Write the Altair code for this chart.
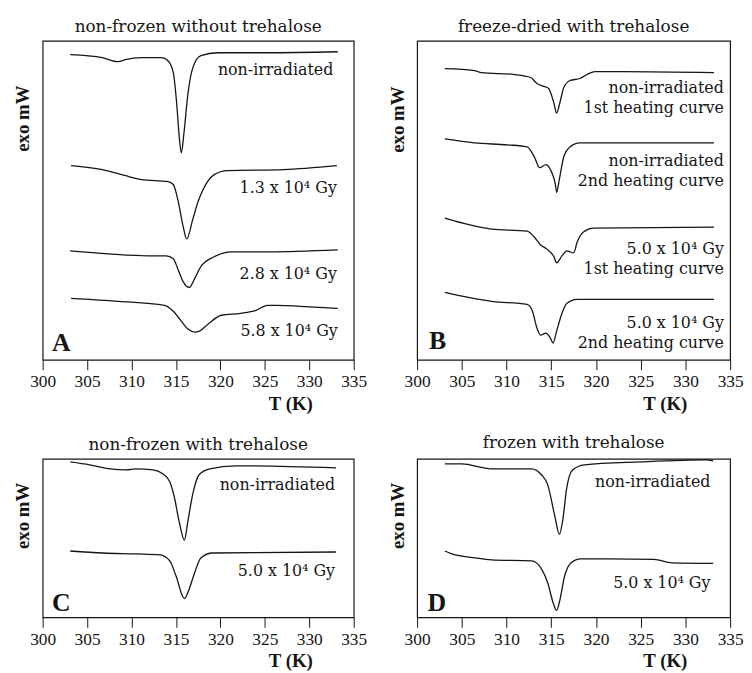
import altair as alt
import pandas as pd

# ---------------- Panel A : non-frozen without trehalose ----------------
A_T_0 = [303.1, 306.7, 308.5, 309.3, 311.1, 313.4, 314.1, 314.7, 315.05, 315.4, 315.6, 315.9, 316.35, 316.9, 317.8, 319.7, 325.3, 333.2]
A_v_0 = [30.8, 30.5, 30.1, 30.3, 30.5, 30.5, 30.2, 29.0, 26.2, 22.2, 20.9, 22.9, 26.9, 29.5, 30.7, 31.0, 31.0, 31.1]
A_T_1 = [303.2, 306.7, 309.7, 311.1, 314.1, 314.7, 315.2, 315.8, 316.2, 316.9, 317.5, 318.0, 318.55, 319.3, 320.8, 327.1, 333.1]
A_v_1 = [19.6, 19.2, 18.5, 18.2, 18.0, 17.7, 16.2, 13.5, 12.2, 14.2, 16.0, 17.1, 18.0, 18.7, 19.1, 19.2, 19.6]
A_T_2 = [303.1, 307.4, 311.9, 313.9, 314.7, 315.2, 315.8, 316.5, 317.1, 317.8, 319.3, 321.2, 325.3, 333.2]
A_v_2 = [11.0, 10.7, 10.5, 10.5, 10.2, 9.2, 7.9, 7.3, 8.2, 9.4, 10.4, 10.9, 10.9, 11.1]
A_T_3 = [303.2, 308.5, 313.7, 314.7, 315.6, 316.35, 317.1, 317.65, 318.6, 320.1, 322.3, 324.0, 325.3, 326.4, 329.0, 333.2]
A_v_3 = [6.2, 5.9, 5.5, 4.9, 3.9, 3.1, 2.8, 2.9, 3.6, 4.5, 4.7, 5.0, 5.5, 5.5, 5.4, 5.2]
A_labels = ["non-irradiated", "1.3 x 10⁴ Gy", "2.8 x 10⁴ Gy", "5.8 x 10⁴ Gy"]
A_lab_T = [332.7, 333.1, 333.1, 333.2]
A_lab_v = [29.3, 17.3, 8.7, 2.9]

# ---------------- Panel B : freeze-dried with trehalose ----------------
B_T_0 = [303.1, 306.4, 307.2, 310.9, 312.7, 313.4, 314.2, 314.7, 315.3, 315.6, 315.95, 316.4, 317.1, 318.2, 319.0, 319.9, 323.0, 333.2]
B_v_0 = [29.4, 29.2, 29.0, 28.8, 28.5, 27.9, 27.6, 27.4, 25.9, 24.9, 25.9, 27.5, 28.2, 28.4, 28.8, 29.1, 29.1, 29.0]
B_T_1 = [303.1, 306.4, 310.1, 312.3, 313.1, 313.7, 314.4, 314.9, 315.5, 315.6, 315.9, 316.4, 317.1, 318.2, 321.2, 333.2]
B_v_1 = [22.3, 21.9, 21.7, 21.5, 20.5, 19.4, 19.7, 19.2, 17.5, 16.9, 18.2, 20.5, 21.5, 21.9, 21.9, 21.9]
B_T_2 = [303.1, 308.3, 312.3, 313.1, 313.8, 314.5, 315.3, 315.6, 316.2, 316.75, 317.1, 317.5, 317.9, 318.6, 319.7, 333.2]
B_v_2 = [14.3, 13.2, 13.0, 12.4, 11.6, 11.2, 10.4, 9.8, 10.5, 11.0, 10.9, 10.8, 11.9, 12.9, 13.3, 13.4]
B_T_3 = [303.1, 308.3, 312.3, 312.9, 313.4, 313.8, 314.4, 314.9, 315.2, 315.6, 316.2, 316.75, 317.9, 321.2, 333.2]
B_v_3 = [6.8, 5.9, 5.6, 4.9, 3.2, 2.5, 2.7, 2.2, 1.7, 2.9, 4.7, 5.7, 6.1, 6.1, 6.1]
B_labels = ["non-irradiated", "1st heating curve", "non-irradiated", "2nd heating curve",
            "5.0 x 10⁴ Gy", "1st heating curve", "5.0 x 10⁴ Gy", "2nd heating curve"]
B_lab_T = [334.3] * 8
B_lab_v = [27.4, 25.4, 20.1, 18.0, 11.2, 9.2, 3.7, 1.7]

# ---------------- Panel C : non-frozen with trehalose ----------------
C_T_0 = [303.1, 305.3, 307.6, 309.4, 310.5, 312.4, 313.5, 314.3, 314.8, 315.4, 315.95, 316.3, 316.9, 317.6, 318.8, 321.7, 333.0]
C_v_0 = [15.7, 15.4, 15.0, 14.9, 15.0, 14.9, 14.5, 13.7, 12.2, 9.5, 7.8, 9.5, 12.5, 14.4, 15.0, 15.3, 15.1]
C_T_1 = [303.1, 306.8, 310.5, 313.2, 314.3, 315.0, 315.95, 316.5, 317.1, 317.8, 319.1, 333.0]
C_v_1 = [6.7, 6.5, 6.4, 6.3, 5.7, 4.2, 1.9, 2.9, 4.5, 6.0, 6.5, 6.6]
C_labels = ["non-irradiated", "5.0 x 10⁴ Gy"]
C_lab_T = [332.9, 332.9]
C_lab_v = [13.4, 4.7]

# ---------------- Panel D : frozen with trehalose ----------------
D_T_0 = [303.1, 305.0, 308.3, 312.8, 313.9, 314.6, 315.4, 315.9, 316.3, 316.7, 317.4, 318.7, 325.0, 332.4, 333.1]
D_v_0 = [15.5, 15.5, 15.0, 15.0, 14.4, 13.4, 10.2, 8.4, 9.9, 12.9, 14.9, 15.4, 15.7, 15.9, 15.8]
D_T_1 = [303.1, 303.9, 306.5, 308.3, 312.8, 313.9, 314.6, 315.2, 315.6, 315.9, 316.5, 317.2, 318.3, 321.3, 326.5, 328.5, 333.1]
D_v_1 = [6.7, 6.4, 6.0, 5.8, 5.7, 4.9, 3.5, 1.5, 0.7, 1.5, 4.2, 5.5, 5.9, 5.9, 5.85, 5.5, 5.45]
D_labels = ["non-irradiated", "5.0 x 10⁴ Gy"]
D_lab_T = [332.8, 332.8]
D_lab_v = [13.7, 3.5]

X_TICKS = [300, 305, 310, 315, 320, 325, 330, 335]
TEXT_FONT = "DejaVu Serif"
NUM_FONT = "Liberation Serif"
INK = "#151515"


def panel(curves, lab_text, lab_T, lab_v, letter, letter_T, letter_v,
          title, width, height, ymax, ytitle_y):
    rows = []
    for i, (Ts, vs) in enumerate(curves):
        for t, v in zip(Ts, vs):
            rows.append({"curve": i, "T": t, "v": v})
    df = pd.DataFrame(rows)
    lab_df = pd.DataFrame({"T": lab_T, "v": lab_v, "text": lab_text})
    let_df = pd.DataFrame({"T": [letter_T], "v": [letter_v], "text": [letter]})

    x = alt.X("T:Q",
              scale=alt.Scale(domain=[300, 335], nice=False, zero=False),
              axis=alt.Axis(values=X_TICKS, title="T (K)", grid=False, domain=False,
                            ticks=True, tickSize=10, tickColor=INK, tickWidth=1,
                            labelFont=NUM_FONT, labelFontSize=17.5, labelColor=INK,
                            labelPadding=3, labelFlush=False,
                            titleFont=NUM_FONT, titleFontSize=19, titleFontWeight="bold",
                            titleColor=INK, titleX=250, titleY=44,
                            titleAlign="center", titleBaseline="middle"))
    y = alt.Y("v:Q",
              scale=alt.Scale(domain=[0, ymax], nice=False, zero=False),
              axis=alt.Axis(title="exo mW", grid=False, domain=False, ticks=False,
                            labels=False, titleFont=NUM_FONT, titleFontSize=19,
                            titleFontWeight="bold", titleColor=INK,
                            titleX=-20, titleY=ytitle_y, titleAngle=270,
                            titleAlign="center", titleBaseline="middle"))

    lines = alt.Chart(df).mark_line(color=INK, strokeWidth=1.3,
                                    interpolate="monotone").encode(
        x=x, y=y, detail="curve:N")
    labs = alt.Chart(lab_df).mark_text(align="right", baseline="middle",
                                       font=TEXT_FONT, fontSize=16,
                                       color=INK).encode(x=x, y=y, text="text:N")
    let = alt.Chart(let_df).mark_text(align="center", baseline="middle",
                                      font=NUM_FONT, fontSize=26, fontWeight="bold",
                                      color=INK).encode(x=x, y=y, text="text:N")
    return alt.layer(lines, labs, let).properties(
        width=width, height=height,
        title=alt.TitleParams(title, font=TEXT_FONT, fontSize=17, fontWeight="normal",
                              color=INK, anchor="middle", offset=5))


pA = panel([(A_T_0, A_v_0), (A_T_1, A_v_1), (A_T_2, A_v_2), (A_T_3, A_v_3)],
           A_labels, A_lab_T, A_lab_v, "A", 302.1, 1.7,
           "non-frozen without trehalose", 314, 322, 32.2, 78)
pB = panel([(B_T_0, B_v_0), (B_T_1, B_v_1), (B_T_2, B_v_2), (B_T_3, B_v_3)],
           B_labels, B_lab_T, B_lab_v, "B", 302.3, 1.9,
           "freeze-dried with trehalose", 316, 322, 32.2, 79)
pC = panel([(C_T_0, C_v_0), (C_T_1, C_v_1)],
           C_labels, C_lab_T, C_lab_v, "C", 302.1, 1.4,
           "non-frozen with trehalose", 314, 160, 16.0, 57)
pD = panel([(D_T_0, D_v_0), (D_T_1, D_v_1)],
           D_labels, D_lab_T, D_lab_v, "D", 302.2, 1.4,
           "frozen with trehalose", 316, 160, 16.0, 57)

chart = alt.concat(pA, pB, pC, pD, columns=2,
                   spacing={"row": 100, "column": 64},
                   bounds="flush", align="each").properties(
    padding={"left": 5, "top": 6, "right": 0, "bottom": 0},
    background="white"
).configure_view(stroke=INK, strokeWidth=1.2)

chart.save("out.html", embed_options={"renderer": "svg", "actions": False})
